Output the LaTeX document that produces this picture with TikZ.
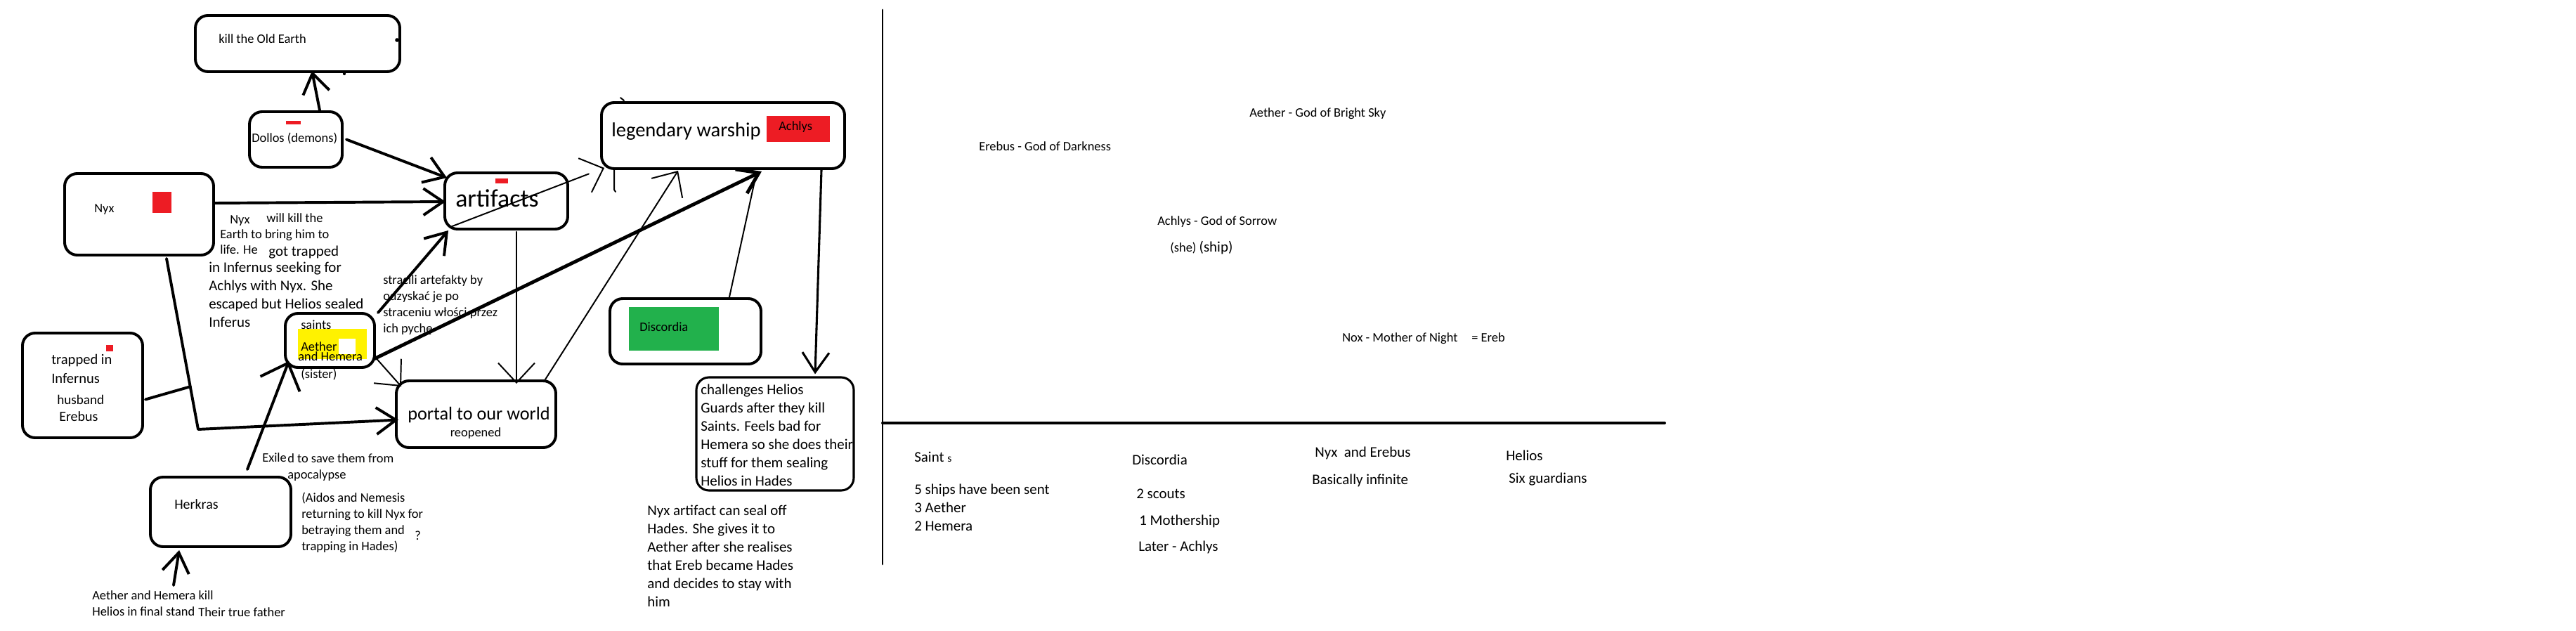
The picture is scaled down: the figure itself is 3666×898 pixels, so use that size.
\documentclass[tikz,border=0pt]{standalone}
\usepackage{fontspec}
\setmainfont{Carlito}
\usepackage{xcolor}
\usetikzlibrary{positioning,calc,arrows.meta}

\definecolor{paintred}{RGB}{237,28,36}
\definecolor{paintyellow}{RGB}{255,242,0}
\definecolor{paintgreen}{RGB}{34,177,76}

\begin{document}
\begin{tikzpicture}[x=0.025cm, y=-0.025cm, line cap=round, line join=round]
  \useasboundingbox (0,0) rectangle (3666,898);

  % ===== styles =====
  \tikzset{
    box/.style 2 args={draw, line width=2.8pt, rounded corners=0.45cm, inner sep=0pt,
      minimum width=#1*0.025cm, minimum height=#2*0.025cm},
    st/.style={font=\fontsize{13.1pt}{16.3pt}\selectfont, inner sep=0pt, anchor=base west, align=left},
    bt/.style={font=\fontsize{14.9pt}{18.4pt}\selectfont, inner sep=0pt, anchor=base west, align=left},
    arr/.style={line width=2.8pt, -{Straight Barb[length=0.7cm, width=0.95cm]}},
    tarr/.style={line width=1.4pt, -{Straight Barb[length=0.7cm, width=1.3cm]}}
  }

  % ===== boxes =====
  \node[box={291}{80}] (earth) at (423.5,62) {};
  \node[box={132}{79}] (dollos) at (421,198.5) {};
  \node[box={212}{116}] (nyx) at (198,305) {};
  \node[box={175}{80}] (art) at (720.5,286) {};
  \node[box={346}{94}] (ship) at (1029,193) {};
  \node[box={127}{77}] (saints) at (469.5,484.5) {};
  \node[box={171}{149}] (trap) at (117.5,548.5) {};
  \node[box={227}{95}] (portal) at (677.5,589.5) {};
  \node[box={215}{93}] (disc) at (975.5,471.5) {};
  \node[box={224}{161}, line width=2.2pt] (chal) at (1103,617.5) {};
  \node[box={200}{99}] (herk) at (314,728.5) {};

  % ===== colour marks =====
  \fill[paintred] (217,273) rectangle (244,303);
  \fill[paintred] (151,491) rectangle (161,500);
  \fill[paintred] (407,172) rectangle (428,177);
  \fill[paintred] (705,254) rectangle (723,261);
  \fill[paintred] (1091,165) rectangle (1181,202);
  \fill[paintyellow] (424,468) rectangle (522,511);
  \fill[white] (482,482) rectangle (506,504);
  \fill[paintgreen] (895,437) rectangle (1023,499);
  \fill (565,57) circle (2pt);
  \fill (490,105) circle (1.5pt);

  % ===== texts in boxes (multi-line nodes sit on their last baseline) =====
  \node[st] (earthtxt) at (311,62) {kill the Old Earth};
  \node[st] (dollostxt) at (358,203) {Dollos (demons)};
  \node[st] (nyxtxt) at (134,303) {Nyx};
  \node[st, font=\fontsize{25.5pt}{30pt}\selectfont] (arttxt) at (648,295) {artifacts};
  \node[st, font=\fontsize{20.3pt}{24pt}\selectfont] (shiptxt) at (870,195) {legendary warship};
  \node[st] (achlystxt) at (1108,186) {Achlys};
  \node[st] (saintstxt) at (428,468) {saints};
  \node[st] (aethertxt) at (428,499) {Aether};
  \node[st] (hemeratxt) at (424,513) {and Hemera};
  \node[st] (sistertxt) at (428,538) {(sister)};
  \node[bt, font=\fontsize{14.6pt}{19.1pt}\selectfont] (traptxt) at (73,545) {trapped in\\Infernus};
  \node[st, font=\fontsize{13.6pt}{16pt}\selectfont] (husbtxt) at (81,575) {husband};
  \node[st, font=\fontsize{14.2pt}{16pt}\selectfont] (erebtxt) at (84,599) {Erebus};
  \node[st, font=\fontsize{18.7pt}{22pt}\selectfont] (portaltxt) at (580,597) {portal to our world};
  \node[st, anchor=base] (reopentxt) at (677,621) {reopened};
  \node[st] (disctxt) at (910,471) {Discordia};
  \node[bt] (chaltxt) at (997,691) {challenges Helios\\Guards after they kill\\Saints. Feels bad for\\Hemera so she does their\\stuff for them sealing\\Helios in Hades};
  \node[st, font=\fontsize{14.2pt}{16pt}\selectfont] (herktxt) at (248,724) {Herkras};

  % ===== notes =====
  \node[st] (nyxnote) at (327,319) {Nyx};
  \node[st] (killnote) at (379,317) {will kill the};
  \node[st] (earthnote) at (313,362) {Earth to bring him to\\life. He};
  \node[bt] (gotnote) at (382,364) {got trapped};
  \node[bt] (infnote) at (297,465) {in Infernus seeking for\\Achlys with Nyx. She\\escaped but Helios sealed\\Inferus};
  \node[st] (lostnote) at (545,473) {stracili artefakty by\\odzyskać je po\\straceniu włości przez\\ich pychę};
  \node[bt] (sealnote) at (921,863) {Nyx artifact can seal off\\Hades. She gives it to\\Aether after she realises\\that Ereb became Hades\\and decides to stay with\\him};
  \node[st] (exilenote) at (373,657) {Exile};
  \node[st] (savenote) at (409,681) {d to save them from\\apocalypse};
  \node[st] (aidosnote) at (429,783) {(Aidos and Nemesis\\returning to kill Nyx for\\betraying them and\\trapping in Hades)};
  \node[st] (asknote) at (590,768) {?};
  \node[st] (finalnote) at (131,876) {Aether and Hemera kill\\Helios in final stand};
  \node[st] (fathernote) at (282,877) {Their true father};

  % ===== connectors =====
  \draw[arr] ($(dollos.north)+(34,0)$) -- ($(earth.south)+(20.5,-3)$);
  \draw[arr] ($(dollos.east)+(4,0)$) -- ($(art.north west)+(5,9)$);
  \draw[arr] ($(nyx.east)+(0,-16)$) -- ($(art.west)+(3,1)$);
  \coordinate (nyxout) at ($(nyx.south)+(39,3)$);
  \coordinate (bend) at (282,611);
  \draw[arr] (nyxout) -- (bend) -- ($(portal.west)+(5,8)$);
  \draw[line width=2.8pt] ($(trap.east)+(2,20)$) -- ($(nyxout)!0.75!(bend)$);
  \draw[arr, -{Straight Barb[length=0.8cm, width=1.5cm]}] ($(herk.north)+(38,-9)$) -- ($(saints.south west)+(7,-11)$);
  \draw[arr] ($(saints.north east)+(3,1)$) -- ($(art.south west)+(7,0)$);
  \draw[arr, line width=3.5pt] ($(saints.east)+(-2,26)$) -- ($(ship.south)+(55,2)$);
  \draw[tarr] ($(saints.east)+(1,26)$) -- ($(portal.north west)+(9,10)$);
  \draw[tarr] ($(art.south)+(14.5,2)$) -- ($(portal.north)+(57.5,6)$);
  \draw[tarr] ($(portal.north east)+(-17,0)$) -- ($(ship.south)+(-64,1)$);
  \draw[tarr, dash pattern=on 150pt off 20pt] ($(art.south west)+(10,-5)$) -- ($(ship.south west)+(6,-3)$);
  \draw[line width=1.4pt] ($(ship.south west)+(20,-2)$) -- ++(0,30) -- ++(2,3);
  \draw[line width=1.4pt] ($(ship.north west)+(29,-5)$) -- ++(5,4);
  \draw[line width=1.4pt] ($(disc.north)+(62,2)$) -- ($(ship.south)+(48,2)$);
  \draw[arr, line width=2.2pt] ($(ship.south)+(140,0)$) -- ($(chal.north)+(57,-3)$);
  \coordinate (killer) at (247,833);
  \draw[arr] (killer) -- ($(herk.south west)+(43,3)$);

  % ===== right part =====
  \draw[line width=2pt] (1256,14) -- (1256,803);
  \draw[line width=2.8pt] (1256,602) -- (2369,602);

  \node[st] (aethergod) at (1778,167) {Aether - God of Bright Sky};
  \node[st] (erebgod) at (1393,215) {Erebus - God of Darkness};
  \node[st] (achlysgod) at (1647,321) {Achlys - God of Sorrow};
  \node[st] (shenote) at (1665,359) {(she) {\fontsize{14.9pt}{16pt}\selectfont(ship)}};
  \node[st] (noxgod) at (1910,486) {Nox - Mother of Night};
  \node[st] (noxereb) at (2094,486) {= Ereb};

  \node[bt] (saintshead) at (1301,657) {Saint {\fontsize{11pt}{12pt}\selectfont s}};
  \node[bt] (saintslist) at (1301,755) {5 ships have been sent\\3 Aether\\2 Hemera};
  \node[bt] (dischead) at (1611,661) {Discordia};
  \node[bt] (discscout) at (1617,709) {2 scouts};
  \node[bt] (discmother) at (1621,747) {1 Mothership};
  \node[bt] (disclater) at (1620,784) {Later - Achlys};
  \node[bt] (nyxhead) at (1871,650) {Nyx\ \ and Erebus};
  \node[bt] (nyxcount) at (1867,689) {Basically infinite};
  \node[bt] (helioshead) at (2143,655) {Helios};
  \node[bt] (helioscount) at (2147,687) {Six guardians};
\end{tikzpicture}
\end{document}
